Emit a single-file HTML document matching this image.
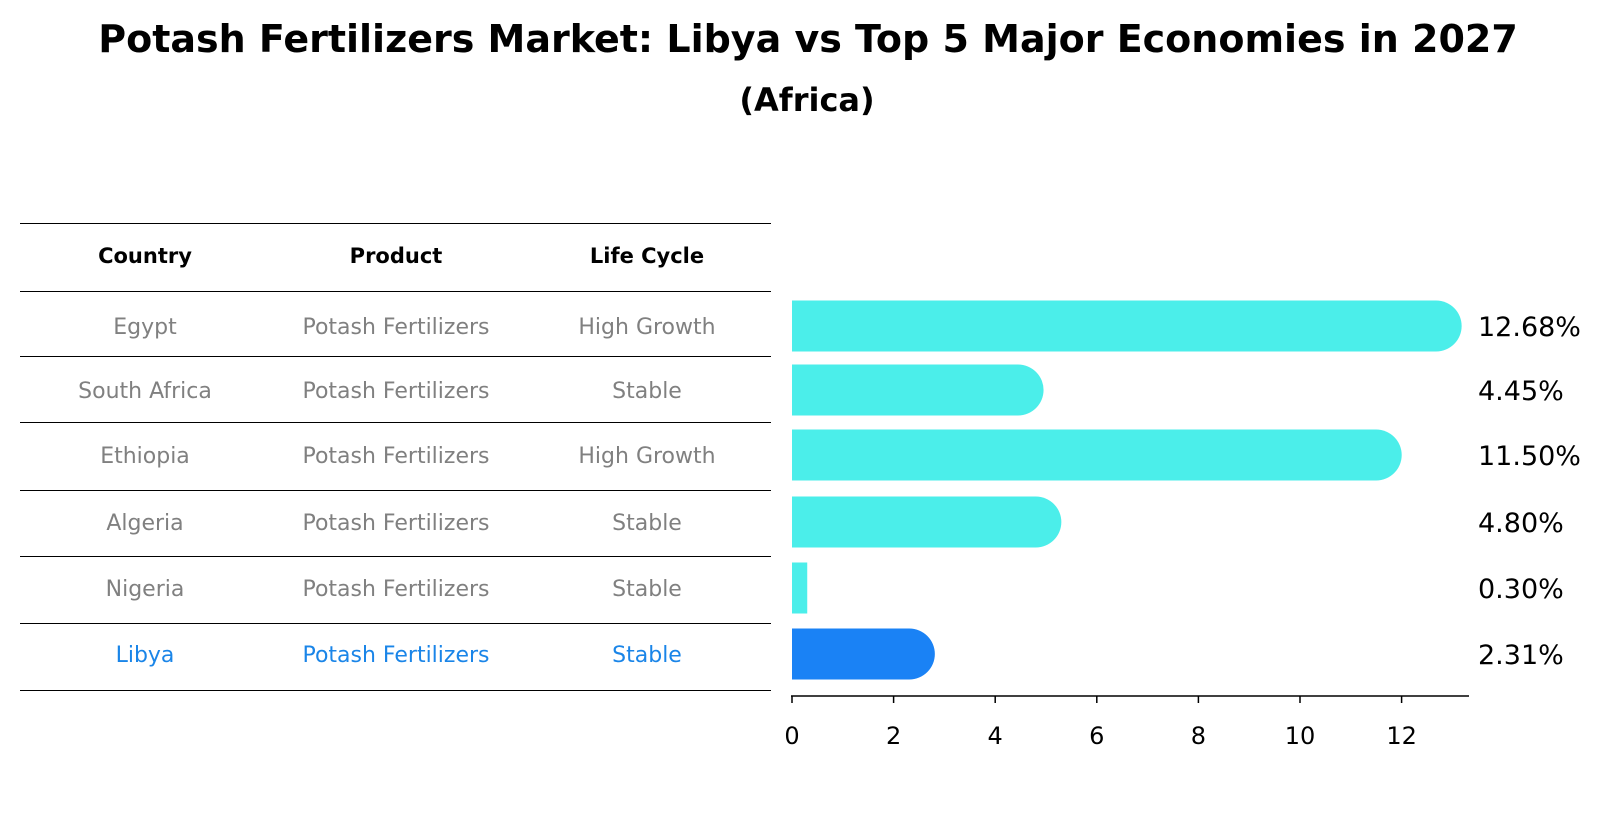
<!DOCTYPE html>
<html><head><meta charset="utf-8"><style>
body{margin:0;background:#fff;width:1604px;height:823px;overflow:hidden;font-family:"Liberation Sans","DejaVu Sans",sans-serif}
svg text{font-family:"DejaVu Sans","Liberation Sans",sans-serif}
</style></head><body>
<svg id="c" width="1604" height="823">
<text x="808" y="52" text-anchor="middle" font-size="38" font-weight="bold">Potash Fertilizers Market: Libya vs Top 5 Major Economies in 2027</text>
<text x="807" y="111" text-anchor="middle" font-size="32" font-weight="bold">(Africa)</text>
<g id="tbl"></g>
<g id="bars"></g>
</svg>
<script>
const countries=["Egypt","South Africa","Ethiopia","Algeria","Nigeria","Libya"];
const products=["Potash Fertilizers","Potash Fertilizers","Potash Fertilizers","Potash Fertilizers","Potash Fertilizers","Potash Fertilizers"];
const lifecycle=["High Growth","Stable","High Growth","Stable","Stable","Stable"];
const values=[12.68,4.45,11.50,4.80,0.30,2.31];
const ticks=[0,2,4,6,8,10,12];
const NS="http://www.w3.org/2000/svg";
function mk(p,t,a,txt){const e=document.createElementNS(NS,t);for(const k in a)e.setAttribute(k,a[k]);if(txt!==undefined)e.textContent=txt;p.appendChild(e);return e;}
const tbl=document.getElementById('tbl'),bars=document.getElementById('bars');
const lines=[223,291,356,422,490,556,623,690];
const cols=[145,396,647];
lines.forEach((y,i)=>{const l=mk(tbl,'line',{x1:20,x2:771,y1:y+0.5,y2:y+0.5,stroke:'#000','stroke-width':1,'shape-rendering':'crispEdges'});

});
["Country","Product","Life Cycle"].forEach((h,i)=>{const t=mk(tbl,'text',{x:cols[i],y:263,'text-anchor':'middle','font-size':21,'font-weight':'bold'},h);

});
const rowY=[326,390,455,522,588,654];
const x=v=>792+v*50.8;
countries.forEach((c,i)=>{
 const col=i===countries.length-1?'#1a85e8':'#808080';
 [c,products[i],lifecycle[i]].forEach((s,j)=>{const t=mk(tbl,'text',{x:cols[j],y:rowY[i]+8,'text-anchor':'middle','font-size':22,fill:col},s);
 
 });
 const v=values[i],h=51,y0=rowY[i]-h/2,fill=i===countries.length-1?'#1a82f5':'#4beeea';
 const w=x(v)-x(0),r=h/2;
 let d;
 if(w>r){d=`M${x(0)},${y0} H${x(v)} A${r},${r} 0 0 1 ${x(v)},${y0+h} H${x(0)} Z`;}
 else d=`M${x(0)},${y0} H${x(v)} V${y0+h} H${x(0)} Z`;
 const b=mk(bars,'path',{d:d,fill:fill});
 
 
 const lb=mk(bars,'text',{x:1478,y:rowY[i]+10,'font-size':27},v.toFixed(2)+'%');
 
 
});
const ax=mk(bars,'line',{x1:791,x2:1469,y1:696,y2:696,stroke:'#000','stroke-width':1.5});


ticks.forEach(t=>{const tk=mk(bars,'line',{x1:x(t),x2:x(t),y1:696,y2:703,stroke:'#000','stroke-width':1.5});


const tl=mk(bars,'text',{x:x(t),y:744,'text-anchor':'middle','font-size':24},String(t));

});
</script>
</body></html>
